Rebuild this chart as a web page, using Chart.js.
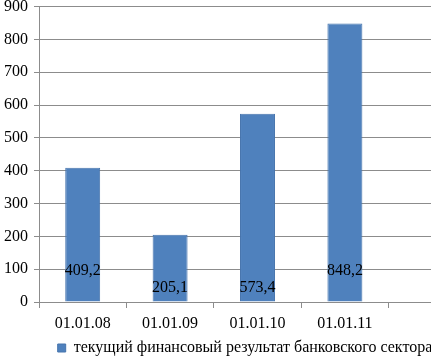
<!DOCTYPE html>
<html>
<head>
<meta charset="utf-8">
<script src="https://cdn.jsdelivr.net/npm/chart.js@4/dist/chart.umd.min.js"></script>
<style>
  html, body { margin: 0; padding: 0; background: #fff; overflow: hidden; }
  #wrap { position: relative; width: 490px; height: 375px; margin-top: -9px; }
</style>
</head>
<body>
<div id="wrap"><canvas id="chart"></canvas></div>
<script>
// Данные
const categories = ["01.01.08", "01.01.09", "01.01.10", "01.01.11", ""];
const values = [409.2, 205.1, 573.4, 848.2, null];
const seriesName = "текущий финансовый результат банковского сектора";
const yTicks = [0, 100, 200, 300, 400, 500, 600, 700, 800, 900];

// подписи значений внутри столбцов (смещение от основания)
const labelOffsets = [31, 14, 14, 31];

const serif = "Liberation Serif";

const valueLabels = {
  id: "valueLabels",
  afterDatasetsDraw(chart) {
    const ctx = chart.ctx;
    const meta = chart.getDatasetMeta(0);
    const base = chart.scales.y.getPixelForValue(0);
    ctx.save();
    ctx.font = '16px "Liberation Serif"';
    ctx.fillStyle = "#000";
    ctx.textAlign = "center";
    ctx.textBaseline = "middle";
    meta.data.forEach((bar, i) => {
      if (values[i] == null) return;
      const txt = values[i].toFixed(1).replace(".", ",");
      ctx.fillText(txt, bar.x, base - labelOffsets[i]);
    });
    ctx.restore();
  },
};

function drawChart() {
  new Chart(document.getElementById("chart"), {
    type: "bar",
    data: {
      labels: categories,
      datasets: [
        {
          label: seriesName,
          data: values,
          backgroundColor: "#4f81bd",
          borderColor: "#4674ad",
          borderWidth: 1,
          barPercentage: 0.8,
          categoryPercentage: 0.5,
        },
      ],
    },
    options: {
      responsive: true,
      maintainAspectRatio: false,
      animation: false,
      layout: { padding: 0 },
      plugins: {
        legend: {
          position: "bottom",
          labels: {
            color: "#000",
            font: { family: serif, size: 16 },
            boxWidth: 8,
            boxHeight: 8,
            padding: 4,
          },
        },
        tooltip: { enabled: false },
      },
      scales: {
        x: {
          grid: {
            offset: true,
            drawOnChartArea: false,
            color: "#8c8c8c",
            tickLength: 6,
          },
          border: { color: "#8c8c8c" },
          ticks: {
            color: "#000",
            font: { family: serif, size: 16 },
            padding: 6,
            maxRotation: 0,
          },
          afterFit(s) { s.height = 34; },
        },
        y: {
          min: 0,
          max: 900,
          afterBuildTicks(s) { s.ticks = yTicks.map((v) => ({ value: v })); },
          grid: { color: "#8c8c8c", tickLength: 5 },
          border: { color: "#8c8c8c" },
          ticks: {
            color: "#000",
            font: { family: serif, size: 16 },
            padding: 6,
          },
          afterFit(s) { s.width = 39; },
        },
        // пустая ось справа — только резервирует место
        yRight: {
          position: "right",
          min: 0,
          max: 900,
          grid: { display: false },
          border: { display: false },
          ticks: { display: false },
          afterFit(s) { s.width = 14; },
        },
      },
    },
    plugins: [valueLabels],
  });
}

document.fonts.load('16px "Liberation Serif"').then(drawChart, drawChart);
</script>
</body>
</html>
